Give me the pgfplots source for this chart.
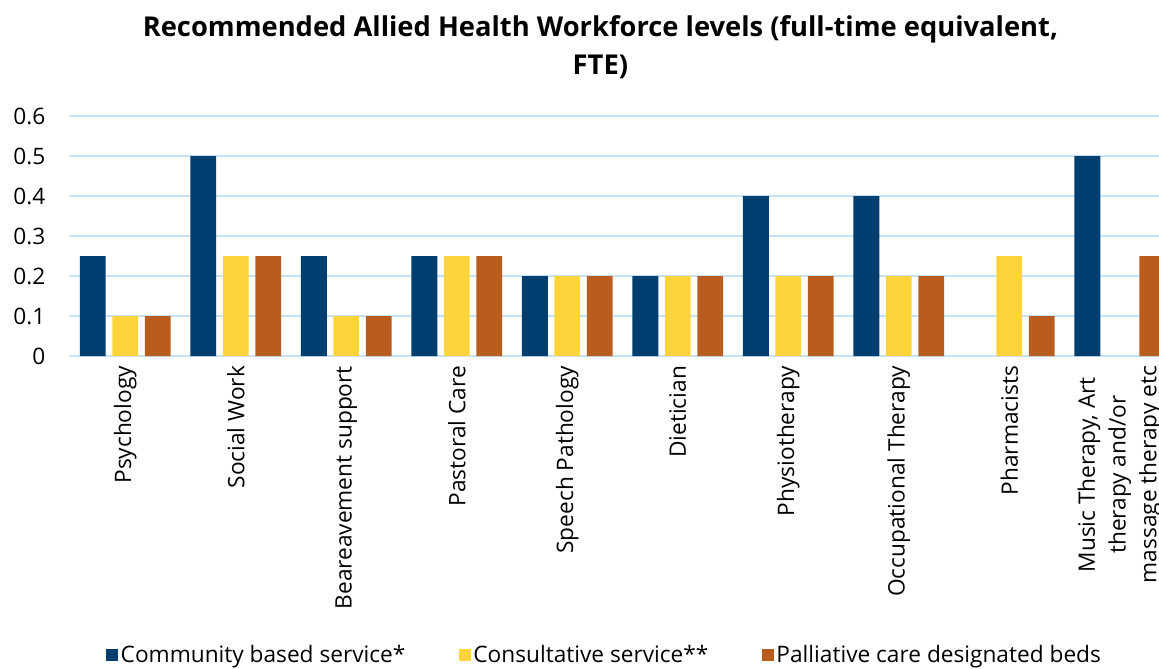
\documentclass[border=0pt]{standalone}
\usepackage{pgfplots}
\pgfplotsset{compat=1.18}
\usepackage{fontspec}
\setmainfont{Open Sans}
\definecolor{cblue}{RGB}{0,62,112}
\definecolor{cyellow}{RGB}{255,212,59}
\definecolor{corange}{RGB}{185,93,30}
\definecolor{cgrid}{RGB}{196,226,248}
\begin{document}
\begin{tikzpicture}
\useasboundingbox (-52.5pt,-234pt) rectangle (816.75pt,267pt);
\clip (-52.5pt,-234pt) rectangle (816.75pt,267pt);
\begin{axis}[
  scale only axis, clip=false,
  width=828.75pt, height=180pt,
  xmin=-0.5, xmax=9.5, ymin=0, ymax=0.6,
  ytick={0,0.1,...,0.6},
  yticklabels={0,0.1,0.2,0.3,0.4,0.5,0.6},
  xtick={0,...,9},
  xticklabels={Psychology,Social Work,Beareavement support,Pastoral Care,Speech Pathology,Dietician,Physiotherapy,Occupational Therapy,Pharmacists,{Music Therapy, Art\\therapy and/or\\massage therapy etc}},
  xticklabel style={rotate=90, anchor=east, align=center, font=\fontsize{17}{23}\selectfont, xshift=-4pt},
  yticklabel style={font=\fontsize{17}{18}\selectfont, xshift=-15pt},
  axis line style={draw=none},
  major tick length=0pt,
  ymajorgrids, major grid style={cgrid, line width=1.3pt},
  ybar, bar width=0.235,
  legend style={at={(rel axis cs:0.484,-1.246)}, anchor=center, draw=none, legend columns=3,
    font=\fontsize{17}{18}\selectfont, /tikz/every even column/.append style={column sep=38pt}},
  legend image code/.code={\fill[#1] (0pt,-4.5pt) rectangle (9pt,4.5pt);},
]
\addplot[fill=cblue, draw=none, bar shift=-0.294] coordinates {(0,0.25) (1,0.5) (2,0.25) (3,0.25) (4,0.2) (5,0.2) (6,0.4) (7,0.4) (9,0.5)};
\addplot[fill=cyellow, draw=none, bar shift=0] coordinates {(0,0.1) (1,0.25) (2,0.1) (3,0.25) (4,0.2) (5,0.2) (6,0.2) (7,0.2) (8,0.25)};
\addplot[fill=corange, draw=none, bar shift=0.294] coordinates {(0,0.1) (1,0.25) (2,0.1) (3,0.25) (4,0.2) (5,0.2) (6,0.2) (7,0.2) (8,0.1) (9,0.25)};
\legend{Community based service*, Consultative service**, Palliative care designated beds}
\node[font=\fontsize{20.5}{28.5}\selectfont\bfseries, align=center, anchor=center] at (rel axis cs:0.48,1.2875) {Recommended Allied Health Workforce levels (full-time equivalent,\\FTE)};
\end{axis}
\end{tikzpicture}
\end{document}
